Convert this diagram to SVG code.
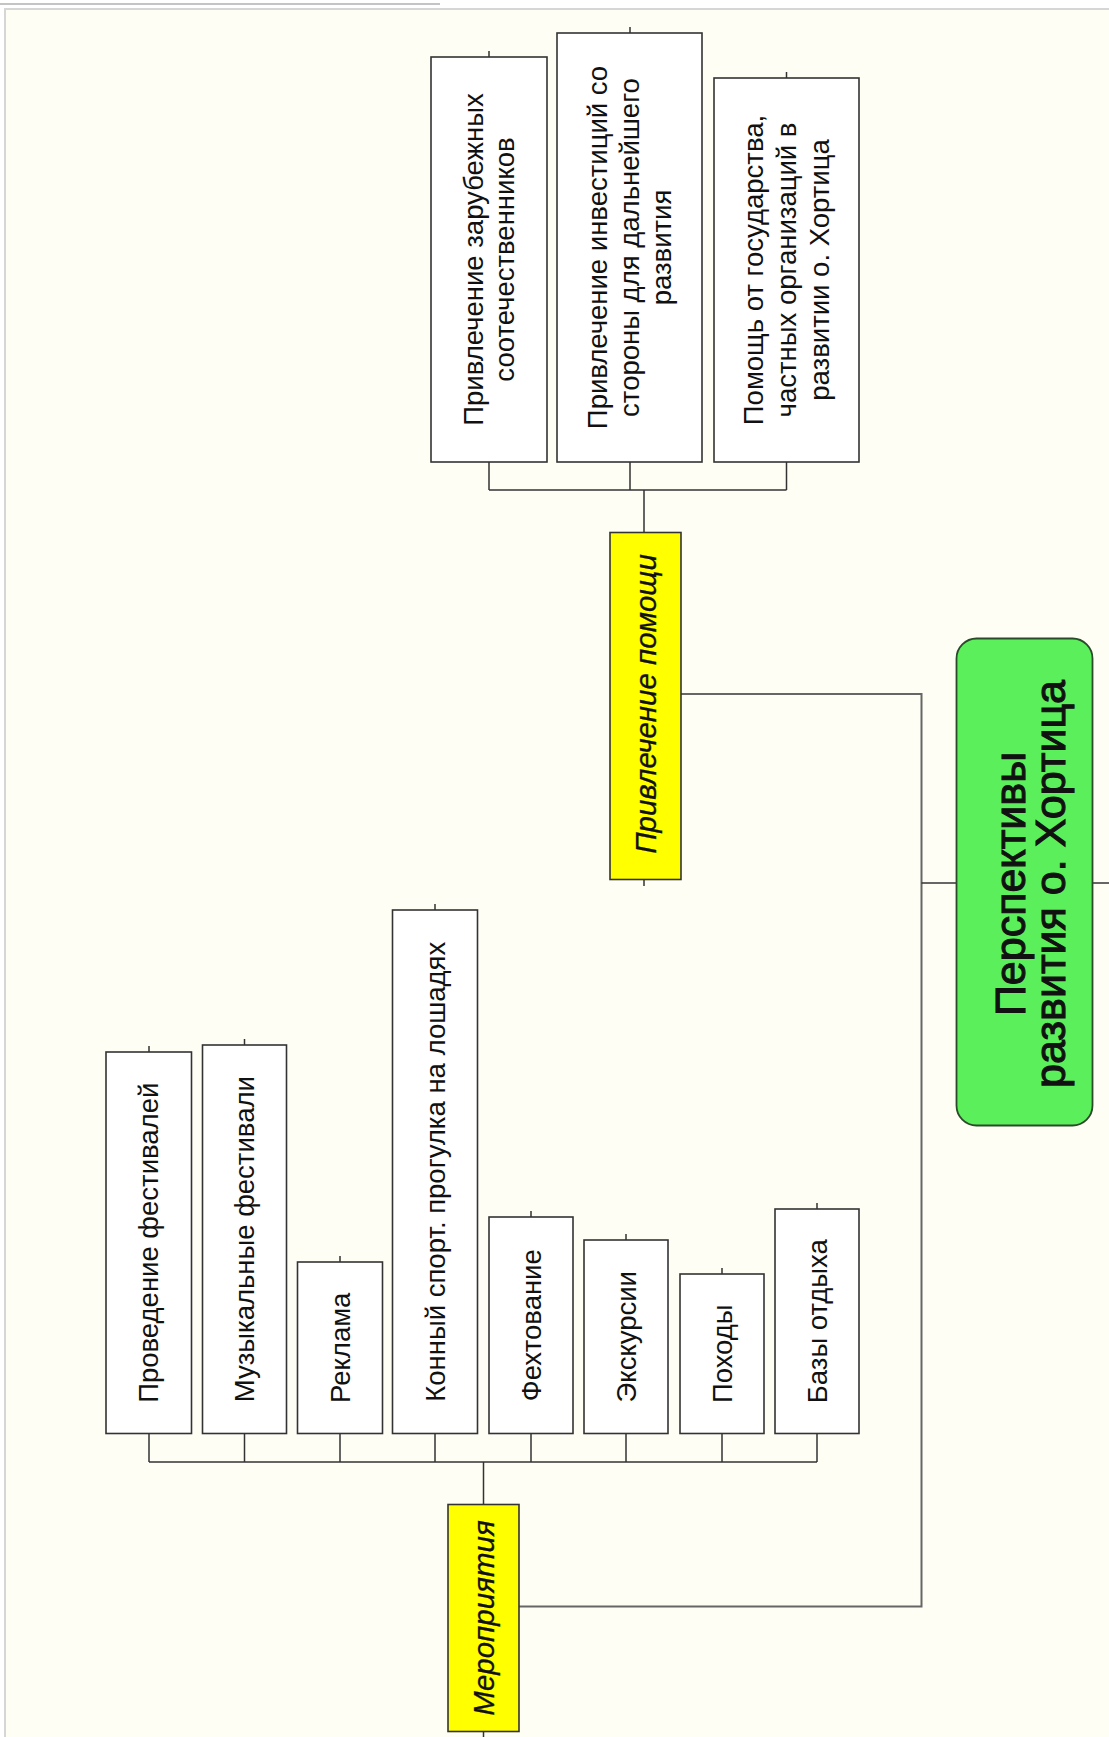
<svg xmlns="http://www.w3.org/2000/svg" width="1109" height="1737" viewBox="0 0 1109 1737">
<style>
.box{fill:#ffffff;stroke:#333333;stroke-width:1.6}
.yel{fill:#ffff00;stroke:#333333;stroke-width:1.6}
.grn{fill:#5cef5c;stroke:#2a4a2a;stroke-width:1.8}
.t{font-family:"Liberation Sans",Arial,sans-serif;font-size:27.5px;fill:#111111;text-anchor:middle}
.ti{font-family:"Liberation Sans",Arial,sans-serif;font-size:29.5px;font-style:italic;fill:#111111;stroke:#111111;stroke-width:0.3;text-anchor:middle}
.tt{font-family:"Liberation Sans",Arial,sans-serif;font-size:43px;fill:#111111;stroke:#111111;stroke-width:1.1;text-anchor:middle}
.ln{fill:none;stroke:#333333;stroke-width:1.5}
.lg{fill:none;stroke:#666666;stroke-width:2}
</style>
<rect x="0" y="0" width="1109" height="1737" fill="#ffffff"/>
<rect x="5" y="9" width="1110" height="1740" fill="#fffef5" stroke="#d6d6d6" stroke-width="2"/>
<line x1="0" y1="4" x2="440" y2="4" stroke="#8a8a8a" stroke-width="1.2"/>

<g id="connectors">
  <path class="ln" d="M489 51V57M630 27V33M786.5 72V78"/>
  <path class="ln" d="M489 462V490M630 462V490M786.5 462V490M489 490H786.5M644 490V532.5"/>
  <path class="ln" d="M644 879.5V886"/>
  <path class="ln" d="M149 1046V1052M244.5 1039V1045M340 1256V1262M435 904V910M531 1211V1217M626 1234V1240M722 1268V1274M817 1203V1209"/>
  <path class="ln" d="M149 1433.5V1462M244.5 1433.5V1462M340 1433.5V1462M435 1433.5V1462M531 1433.5V1462M626 1433.5V1462M722 1433.5V1462M817 1433.5V1462M149 1462H817M483.5 1462V1504.5"/>
  <path class="ln" d="M483.5 1731.5V1737"/>
  <path class="lg" d="M681 694H921.5V1606.5H518.5"/>
  <path class="ln" d="M921.5 883H956.5"/>
  <path class="lg" d="M1092.5 883H1109"/>
</g>

<g id="node-zarubezh">
  <rect class="box" x="431" y="57" width="116" height="405"/>
  <text class="t" transform="translate(489,259.5) rotate(-90)"><tspan x="0" y="-5.9">Привлечение зарубежных</tspan><tspan x="0" y="25.1">соотечественников</tspan></text>
</g>
<g id="node-invest">
  <rect class="box" x="557" y="33" width="145" height="429"/>
  <text class="t" transform="translate(629.5,247.5) rotate(-90)"><tspan x="0" y="-22.4">Привлечение инвестиций со</tspan><tspan x="0" y="9.6">стороны для дальнейшего</tspan><tspan x="0" y="41.6">развития</tspan></text>
</g>
<g id="node-pomosch-gos">
  <rect class="box" x="714" y="78" width="145" height="384"/>
  <text class="t" transform="translate(786.5,270) rotate(-90)"><tspan x="0" y="-23.4">Помощь от государства,</tspan><tspan x="0" y="9.6">частных организаций в</tspan><tspan x="0" y="42.6">развитии о. Хортица</tspan></text>
</g>
<g id="node-privlechenie">
  <rect class="yel" x="610" y="532.5" width="71" height="347"/>
  <text class="ti" transform="translate(645.5,704) rotate(-90)" y="10.3">Привлечение помощи</text>
</g>
<g id="node-root">
  <rect class="grn" x="956.5" y="638.5" width="136" height="487" rx="20" ry="20"/>
  <text class="tt" transform="translate(1024.5,884) rotate(-90)"><tspan x="0" y="0">Перспективы</tspan><tspan x="0" y="40">развития о. Хортица</tspan></text>
</g>
<g id="node-festivali">
  <rect class="box" x="106" y="1052" width="85.5" height="381.5"/>
  <text class="t" transform="translate(148.75,1242.75) rotate(-90)" y="9.6">Проведение фестивалей</text>
</g>
<g id="node-muz">
  <rect class="box" x="202.5" y="1045" width="84" height="388.5"/>
  <text class="t" transform="translate(244.5,1239.25) rotate(-90)" y="9.6">Музыкальные фестивали</text>
</g>
<g id="node-reklama">
  <rect class="box" x="297.5" y="1262" width="85" height="171.5"/>
  <text class="t" transform="translate(340,1347.75) rotate(-90)" y="9.6">Реклама</text>
</g>
<g id="node-konny">
  <rect class="box" x="392.5" y="910" width="85" height="523.5"/>
  <text class="t" transform="translate(435,1171.75) rotate(-90)" y="9.6">Конный спорт. прогулка на лошадях</text>
</g>
<g id="node-fehtovanie">
  <rect class="box" x="489" y="1217" width="84" height="216.5"/>
  <text class="t" transform="translate(531,1325.25) rotate(-90)" y="9.6">Фехтование</text>
</g>
<g id="node-ekskursii">
  <rect class="box" x="584" y="1240" width="84" height="193.5"/>
  <text class="t" transform="translate(626,1336.75) rotate(-90)" y="9.6">Экскурсии</text>
</g>
<g id="node-pohody">
  <rect class="box" x="680" y="1274" width="84" height="159.5"/>
  <text class="t" transform="translate(722,1353.75) rotate(-90)" y="9.6">Походы</text>
</g>
<g id="node-bazy">
  <rect class="box" x="775" y="1209" width="84" height="224.5"/>
  <text class="t" transform="translate(817,1321.25) rotate(-90)" y="9.6">Базы отдыха</text>
</g>
<g id="node-meropriyatiya">
  <rect class="yel" x="448" y="1504.5" width="71" height="227"/>
  <text class="ti" transform="translate(483.5,1618) rotate(-90)" y="10.3">Мероприятия</text>
</g>
</svg>
